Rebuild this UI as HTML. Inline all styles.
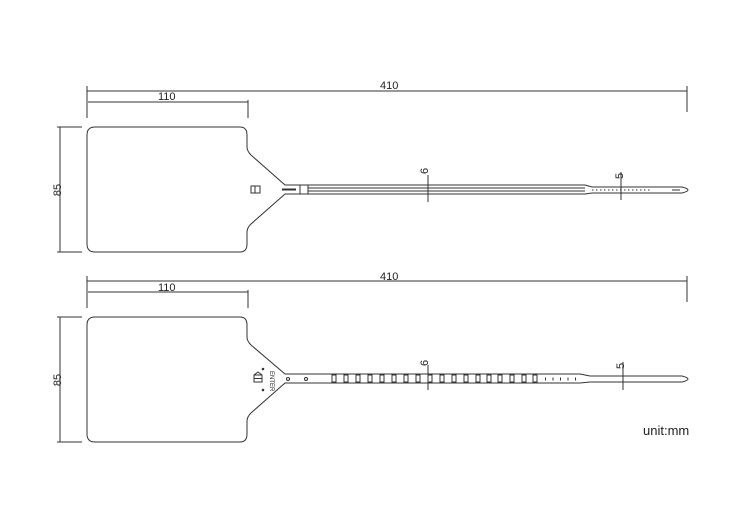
<!DOCTYPE html>
<html><head><style>body{margin:0;background:#fff}svg{display:block}text{font-family:"Liberation Sans",sans-serif;fill:#222}</style></head>
<body>
<svg width="750" height="528" viewBox="0 0 750 528" xmlns="http://www.w3.org/2000/svg" fill="none" stroke="#333" stroke-width="1">
<!-- TOP -->
<g>
<line x1="87" y1="91" x2="687" y2="91"/><line x1="87" y1="86" x2="87" y2="118"/><line x1="687" y1="86" x2="687" y2="112"/>
<line x1="88" y1="102" x2="248" y2="102"/><line x1="248" y1="100" x2="248" y2="118"/>
<text x="380" y="89" font-size="11" stroke="none">410</text>
<text x="158" y="100" font-size="11" stroke="none">110</text>
<line x1="60" y1="127" x2="60" y2="252"/><line x1="57" y1="127" x2="82" y2="127"/><line x1="57" y1="252" x2="82" y2="252"/>
<text transform="translate(61,190) rotate(-90)" text-anchor="middle" font-size="11" stroke="none">85</text>
<path d="M95,127 H240 Q247,127 247,135 V147 Q247,151 251,155 L285,185 H300 V194 H285 L251,224 Q247,228 247,232 V244 Q247,252 240,252 H95 Q87,252 87,244 V135 Q87,127 95,127 Z"/>
<rect x="251" y="186" width="9" height="7"/><line x1="255" y1="186" x2="255" y2="193"/>
<path d="M282,189.5 H296" stroke-width="2"/>
<line x1="300" y1="185" x2="585" y2="185"/><line x1="300" y1="194" x2="585" y2="194"/>
<line x1="308" y1="188" x2="585" y2="188"/><line x1="308" y1="191" x2="585" y2="191"/>
<line x1="308" y1="185" x2="308" y2="194"/>
<path d="M585,185 L592,187 H682 Q688,188.5 688,190 Q688,191.5 682,193 H592 L585,194"/>
<line x1="592" y1="190" x2="650" y2="190" stroke-dasharray="1.5 2.5"/>
<line x1="672" y1="190" x2="680" y2="190"/>
<line x1="428" y1="175" x2="428" y2="202"/><text transform="translate(428,174) rotate(-90)" font-size="11" stroke="none">6</text>
<line x1="621" y1="172" x2="621" y2="200"/><text transform="translate(623,179) rotate(-90)" font-size="11" stroke="none">5</text>
</g>
<!-- BOTTOM -->
<g>
<line x1="87" y1="281" x2="687" y2="281"/><line x1="87" y1="276" x2="87" y2="308"/><line x1="687" y1="276" x2="687" y2="302"/>
<line x1="88" y1="292" x2="248" y2="292"/><line x1="248" y1="290" x2="248" y2="308"/>
<text x="380" y="280" font-size="11" stroke="none">410</text>
<text x="158" y="291" font-size="11" stroke="none">110</text>
<line x1="60" y1="317" x2="60" y2="442"/><line x1="57" y1="317" x2="82" y2="317"/><line x1="57" y1="442" x2="82" y2="442"/>
<text transform="translate(61,380) rotate(-90)" text-anchor="middle" font-size="11" stroke="none">85</text>
<path d="M95,317 H240 Q247,317 247,325 V337 Q247,341 251,345 L285,374 H580 L590,376 H682 Q688,377.5 688,379 Q688,380.5 682,382 H590 L580,383 H285 L251,413 Q247,417 247,421 V434 Q247,442 240,442 H95 Q87,442 87,434 V325 Q87,317 95,317 Z"/>
<rect x="254" y="375" width="8" height="7"/><line x1="254" y1="378.5" x2="262" y2="378.5"/><path d="M254,375 L258,372 L262,375"/>
<circle cx="263" cy="369" r="0.8" fill="#333"/><circle cx="263" cy="390" r="0.8" fill="#333"/>
<text transform="translate(270,371) rotate(90)" font-size="6" stroke="none">ENTER</text>
<circle cx="288" cy="379" r="1.5"/><circle cx="306" cy="379" r="1.5"/>
<g>
<rect x="332" y="375" width="4" height="7"/><rect x="344" y="375" width="4" height="7"/><rect x="356" y="375" width="4" height="7"/><rect x="368" y="375" width="4" height="7"/><rect x="380" y="375" width="4" height="7"/><rect x="392" y="375" width="4" height="7"/><rect x="404" y="375" width="4" height="7"/><rect x="416" y="375" width="4" height="7"/><rect x="428" y="375" width="4" height="7"/><rect x="440" y="375" width="4" height="7"/><rect x="452" y="375" width="4" height="7"/><rect x="464" y="375" width="4" height="7"/><rect x="476" y="375" width="4" height="7"/><rect x="487" y="375" width="4" height="7"/><rect x="498" y="375" width="4" height="7"/><rect x="510" y="375" width="4" height="7"/><rect x="522" y="375" width="4" height="7"/><rect x="533" y="375" width="4" height="7"/>
</g>
<line x1="545" y1="379" x2="577" y2="379" stroke-width="3" stroke-dasharray="1 6.5"/>
<line x1="428" y1="365" x2="428" y2="390"/><text transform="translate(428,366) rotate(-90)" font-size="11" stroke="none">6</text>
<line x1="623" y1="362" x2="623" y2="390"/><text transform="translate(624,369) rotate(-90)" font-size="11" stroke="none">5</text>
</g>
<text x="643" y="435" font-size="13" stroke="none">unit:mm</text>
</svg>
</body></html>
